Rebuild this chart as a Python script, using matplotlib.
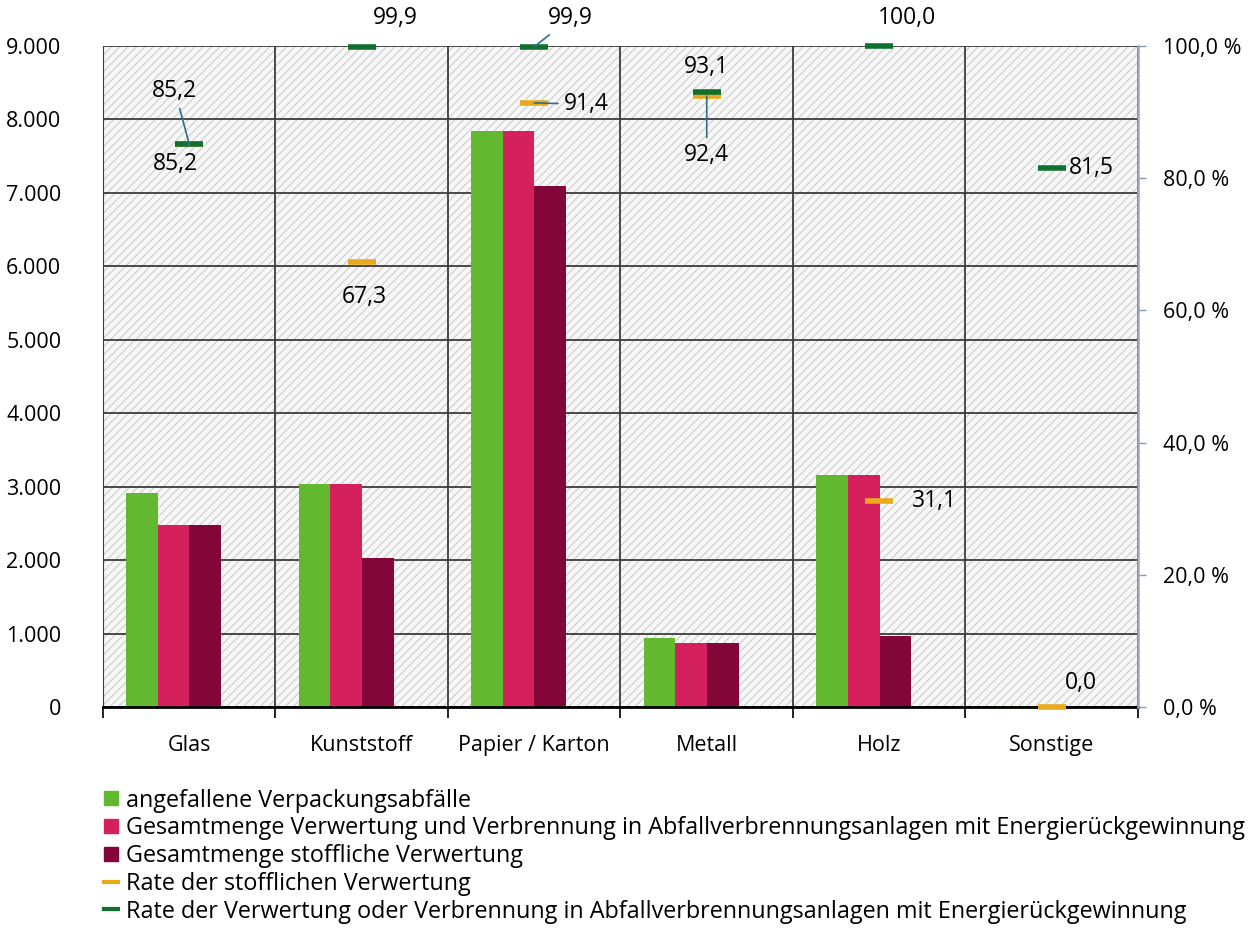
import numpy as np
import matplotlib
matplotlib.use('Agg')
import matplotlib.pyplot as plt
from matplotlib.patches import Rectangle
from matplotlib.lines import Line2D
from matplotlib.ticker import FuncFormatter, FixedLocator

plt.rcParams['font.family'] = ['Open Sans', 'DejaVu Sans']
plt.rcParams['hatch.linewidth'] = 0.8

# Data
categories = ['Glas', 'Kunststoff', 'Papier / Karton', 'Metall', 'Holz', 'Sonstige']
angefallen = [2920, 3040, 7840, 940, 3160, 15]
gesamt_verwertung = [2480, 3040, 7840, 875, 3160, 3]
stofflich = [2480, 2030, 7100, 865, 965, 3]
rate_stofflich = [85.2, 67.3, 91.4, 92.4, 31.1, 0.0]
rate_verwertung = [85.2, 99.9, 99.9, 93.1, 100.0, 81.5]

legend_labels = ['angefallene Verpackungsabfälle',
                 'Gesamtmenge Verwertung und Verbrennung in Abfallverbrennungsanlagen mit Energierückgewinnung',
                 'Gesamtmenge stoffliche Verwertung',
                 'Rate der stofflichen Verwertung',
                 'Rate der Verwertung oder Verbrennung in Abfallverbrennungsanlagen mit Energierückgewinnung']

c_green = '#62b92f'
c_pink = '#d4215e'
c_dark = '#820638'
c_yellow = '#e8a91a'
c_dkgreen = '#11702e'
c_leader = '#2f6f8c'

fig = plt.figure(figsize=(12.54, 9.4), dpi=100)
ax = fig.add_axes([0.0821, 0.2479, 0.8254, 0.7031])

x = np.arange(len(categories))
w = 0.183
off = -0.09

# hatched background
bg = Rectangle((0, 0), 1, 1, transform=ax.transAxes, facecolor='#f7f7f7',
               edgecolor='#cdcdcd', lw=0, hatch='////', zorder=-1)
ax.add_patch(bg)

ax.bar(x + off - w, angefallen, w, color=c_green, zorder=2)
ax.bar(x + off, gesamt_verwertung, w, color=c_pink, zorder=2)
ax.bar(x + off + w, stofflich, w, color=c_dark, zorder=2)

ax.set_xlim(-0.5, len(categories) - 0.5)
ax.set_ylim(0, 9000)
ax.set_yticks(np.arange(0, 9001, 1000))
ax.yaxis.set_major_formatter(FuncFormatter(lambda v, p: f'{int(v):,}'.replace(',', '.')))
ax.set_xticks(x)
ax.set_xticklabels(categories, fontsize=15.5)
ax.xaxis.set_minor_locator(FixedLocator(np.arange(-0.5, len(categories), 1.0)))
ax.tick_params(axis='x', which='major', length=0, pad=20)
ax.tick_params(axis='x', which='minor', length=8, width=1.2, direction='out', color='black')
ax.tick_params(axis='y', length=0, labelsize=15.5, pad=30)
ax.grid(axis='y', color='#3c3c3c', lw=1.3)
ax.grid(axis='x', which='minor', color='#3c3c3c', lw=1.3)
ax.set_axisbelow(True)
for s in ['top', 'right']:
    ax.spines[s].set_visible(False)
ax.spines['left'].set_color('#3c3c3c')
ax.spines['bottom'].set_linewidth(2)

ax2 = ax.twinx()
ax2.set_ylim(0, 100)
ax2.set_yticks(np.arange(0, 101, 20))
ax2.yaxis.set_major_formatter(FuncFormatter(lambda v, p: f'{v:.1f}'.replace('.', ',') + ' %'))
ax2.tick_params(axis='y', length=6, width=1, color='#8a9aa8', labelsize=15.5, pad=12)
for s in ['top', 'left', 'bottom']:
    ax2.spines[s].set_visible(False)
ax2.spines['right'].set_color('#9aaab8')
ax2.spines['right'].set_linewidth(1.8)

ax2.plot(x, rate_stofflich, linestyle='none', marker='_', markersize=20,
         markeredgewidth=4, color=c_yellow, zorder=3, clip_on=False)
ax2.plot(x, rate_verwertung, linestyle='none', marker='_', markersize=20,
         markeredgewidth=4, color=c_dkgreen, zorder=4, clip_on=False)

# value labels: (series, index, text x, text y, leader)
label_pos = [
    (rate_verwertung, 0, -0.083, 93.2, True),
    (rate_stofflich, 0, -0.077, 82.2, True),
    (rate_verwertung, 1, 1.193, 104.2, False),
    (rate_stofflich, 1, 1.013, 62.0, False),
    (rate_verwertung, 2, 2.21, 104.2, True),
    (rate_stofflich, 2, 2.30, 91.2, True),
    (rate_verwertung, 3, 3.0, 96.8, False),
    (rate_stofflich, 3, 3.0, 83.5, True),
    (rate_verwertung, 4, 4.16, 104.2, False),
    (rate_stofflich, 4, 4.32, 31.2, False),
    (rate_verwertung, 5, 5.23, 81.5, False),
    (rate_stofflich, 5, 5.17, 3.6, False),
]
for ser, i, tx, ty, lead in label_pos:
    txt = f'{ser[i]:.1f}'.replace('.', ',')
    props = dict(arrowstyle='-', color=c_leader, lw=1.2, shrinkA=2, shrinkB=0) if lead else None
    ax2.annotate(txt, xy=(x[i], ser[i]), xytext=(tx, ty), textcoords='data',
                 ha='center', va='center', fontsize=16.5, arrowprops=props,
                 annotation_clip=False, zorder=5)

handles = [
    Line2D([], [], marker='s', linestyle='none', markersize=10, color=c_green),
    Line2D([], [], marker='s', linestyle='none', markersize=10, color=c_pink),
    Line2D([], [], marker='s', linestyle='none', markersize=10, color=c_dark),
    Line2D([0, 1], [0, 0], color=c_yellow, lw=3),
    Line2D([0, 1], [0, 0], color=c_dkgreen, lw=3),
]
fig.legend(handles, legend_labels, loc='upper left', bbox_to_anchor=(0.083, 0.161),
           frameon=False, fontsize=16.8, handlelength=0.6, handletextpad=0.35,
           labelspacing=0.16, borderaxespad=0, borderpad=0)

fig.savefig('out.png', dpi=100)
